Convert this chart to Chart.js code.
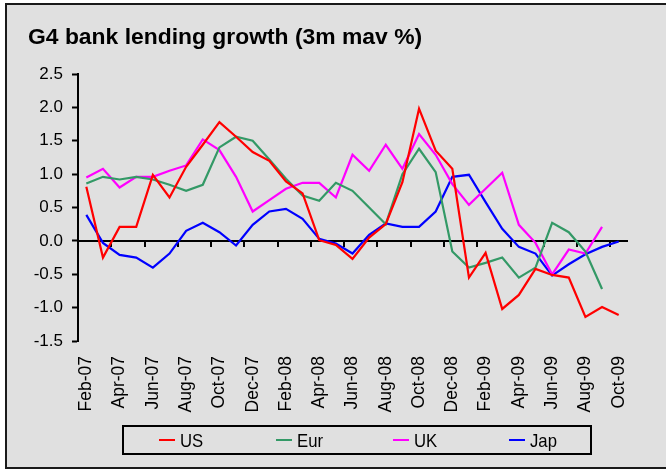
<!DOCTYPE html>
<html>
<head>
<meta charset="utf-8">
<script src="https://cdn.jsdelivr.net/npm/chart.js@4.4.1/dist/chart.umd.min.js"></script>
<style>
  html, body { margin: 0; padding: 0; background: #fff; }
  #wrap { width: 666px; height: 471px; position: relative; }
</style>
</head>
<body>
<div id="wrap"><canvas id="chart" width="666" height="471"></canvas></div>
<script>
// monthly, Feb-07 .. Oct-09
const months = ['Feb-07','Mar-07','Apr-07','May-07','Jun-07','Jul-07','Aug-07','Sep-07','Oct-07','Nov-07','Dec-07',
  'Jan-08','Feb-08','Mar-08','Apr-08','May-08','Jun-08','Jul-08','Aug-08','Sep-08','Oct-08','Nov-08','Dec-08',
  'Jan-09','Feb-09','Mar-09','Apr-09','May-09','Jun-09','Jul-09','Aug-09','Sep-09','Oct-09'];

const us  = [0.81, -0.25, 0.21, 0.21, 0.99, 0.65, 1.11, 1.44, 1.78, 1.56, 1.33, 1.2, 0.89, 0.71, 0.01, -0.06, -0.27,
  0.05, 0.25, 0.88, 1.98, 1.35, 1.08, -0.55, -0.18, -1.02, -0.81, -0.42, -0.51, -0.55, -1.14, -0.99, -1.11];
const eur = [0.86, 0.96, 0.92, 0.96, 0.92, 0.84, 0.75, 0.84, 1.4, 1.56, 1.5, 1.22, 0.93, 0.68, 0.6, 0.87, 0.75,
  0.5, 0.25, 1.0, 1.38, 1.03, -0.16, -0.4, -0.33, -0.25, -0.55, -0.4, 0.27, 0.13, -0.16, -0.72, null];
const uk  = [0.95, 1.08, 0.8, 0.96, 0.96, 1.05, 1.13, 1.52, 1.36, 0.96, 0.44, 0.61, 0.78, 0.87, 0.87, 0.65, 1.29,
  1.05, 1.44, 1.08, 1.6, 1.29, 0.85, 0.54, 0.78, 1.02, 0.24, -0.03, -0.5, -0.13, -0.19, 0.21, null];
const jap = [0.39, -0.03, -0.21, -0.25, -0.4, -0.19, 0.15, 0.27, 0.13, -0.07, 0.24, 0.44, 0.48, 0.33, 0.03, -0.04, -0.19,
  0.09, 0.26, 0.21, 0.21, 0.44, 0.96, 0.99, 0.58, 0.18, -0.09, -0.19, -0.52, -0.35, -0.2, -0.09, -0.01];

const yMin = -1.5, yMax = 2.5, yStep = 0.5;
const titleText = 'G4 bank lending growth (3m mav %)';

const FONT = '"Liberation Sans", Arial, sans-serif';

const series = [
  { label: 'US',  data: us,  color: '#ff0000' },
  { label: 'Eur', data: eur, color: '#339966' },
  { label: 'UK',  data: uk,  color: '#ff00ff' },
  { label: 'Jap', data: jap, color: '#0000ff' }
];

// frame, title, zero axis with its tick marks, legend box
const frame = {
  id: 'frame',
  beforeDraw(chart) {
    const ctx = chart.ctx;
    ctx.save();
    ctx.fillStyle = '#fff';
    ctx.fillRect(0, 0, chart.width, chart.height);
    ctx.fillStyle = '#e0e0e0';
    ctx.fillRect(6, 4, chart.width - 6, 464);
    ctx.strokeStyle = '#1a1a1a';
    ctx.lineWidth = 2;
    ctx.beginPath();
    ctx.moveTo(chart.width + 2, 4);
    ctx.lineTo(6, 4);
    ctx.lineTo(6, 468);
    ctx.lineTo(chart.width + 2, 468);
    ctx.stroke();

    ctx.fillStyle = '#000';
    ctx.font = 'bold 22px ' + FONT;
    ctx.textBaseline = 'alphabetic';
    ctx.translate(28, 44);
    ctx.scale(1.04, 1);
    ctx.fillText(titleText, 0, 0);
    ctx.restore();
  },
  beforeDatasetsDraw(chart) {
    const { ctx, chartArea } = chart;
    const xs = chart.scales.x, ys = chart.scales.y;
    const y0 = ys.getPixelForValue(0);
    const half = (xs.getPixelForValue(1) - xs.getPixelForValue(0)) / 2;
    ctx.save();
    ctx.strokeStyle = '#000';
    ctx.lineWidth = 2;
    ctx.beginPath();
    ctx.moveTo(chartArea.left, y0);
    ctx.lineTo(chartArea.right + 1, y0);
    for (let i = 2; i < months.length; i += 2) {
      const x = Math.round(xs.getPixelForValue(i) - half);
      ctx.moveTo(x, y0);
      ctx.lineTo(x, y0 + 6);
    }
    ctx.stroke();
    ctx.restore();
  },
  afterDraw(chart) {
    const ctx = chart.ctx;
    ctx.save();
    ctx.strokeStyle = '#000';
    ctx.lineWidth = 2;
    ctx.strokeRect(123, 426, 468, 28);
    const itemX = [159, 276, 393, 509];
    ctx.font = '19px ' + FONT;
    ctx.textBaseline = 'middle';
    series.forEach((s, i) => {
      const x = itemX[i];
      ctx.strokeStyle = s.color;
      ctx.beginPath();
      ctx.moveTo(x, 440);
      ctx.lineTo(x + 16, 440);
      ctx.stroke();
      ctx.save();
      ctx.translate(x + 21, 442);
      ctx.scale(0.88, 1);
      ctx.fillStyle = '#000';
      ctx.fillText(s.label, 0, 0);
      ctx.restore();
    });
    ctx.restore();
  }
};

new Chart(document.getElementById('chart'), {
  type: 'line',
  data: {
    labels: months,
    datasets: series.map(s => ({
      label: s.label,
      data: s.data,
      borderColor: s.color,
      backgroundColor: s.color,
      borderWidth: 2.2,
      pointRadius: 0,
      tension: 0,
      fill: false
    }))
  },
  options: {
    responsive: false,
    animation: false,
    layout: { padding: { top: 74, right: 39, bottom: 0, left: 0 } },
    plugins: {
      legend: { display: false },
      title: { display: false },
      tooltip: { enabled: false }
    },
    scales: {
      x: {
        offset: true,
        grid: { display: false, drawTicks: false },
        border: { display: false },
        ticks: {
          autoSkip: false,
          maxRotation: 90,
          minRotation: 90,
          padding: 15,
          color: '#000',
          font: { family: FONT, size: 17.5 },
          callback: (v, i) => (i % 2 === 0 ? months[i] : '')
        },
        afterFit: s => { s.height = 130; }
      },
      y: {
        min: yMin,
        max: yMax,
        ticks: {
          stepSize: yStep,
          padding: 9,
          color: '#000',
          font: { family: FONT, size: 17 },
          callback: v => v.toFixed(1)
        },
        grid: { drawOnChartArea: false, tickLength: 6, tickWidth: 2, tickColor: '#000' },
        border: { color: '#000', width: 2 },
        afterFit: s => { s.width = 78; }
      }
    }
  },
  plugins: [frame]
});
</script>
</body>
</html>
